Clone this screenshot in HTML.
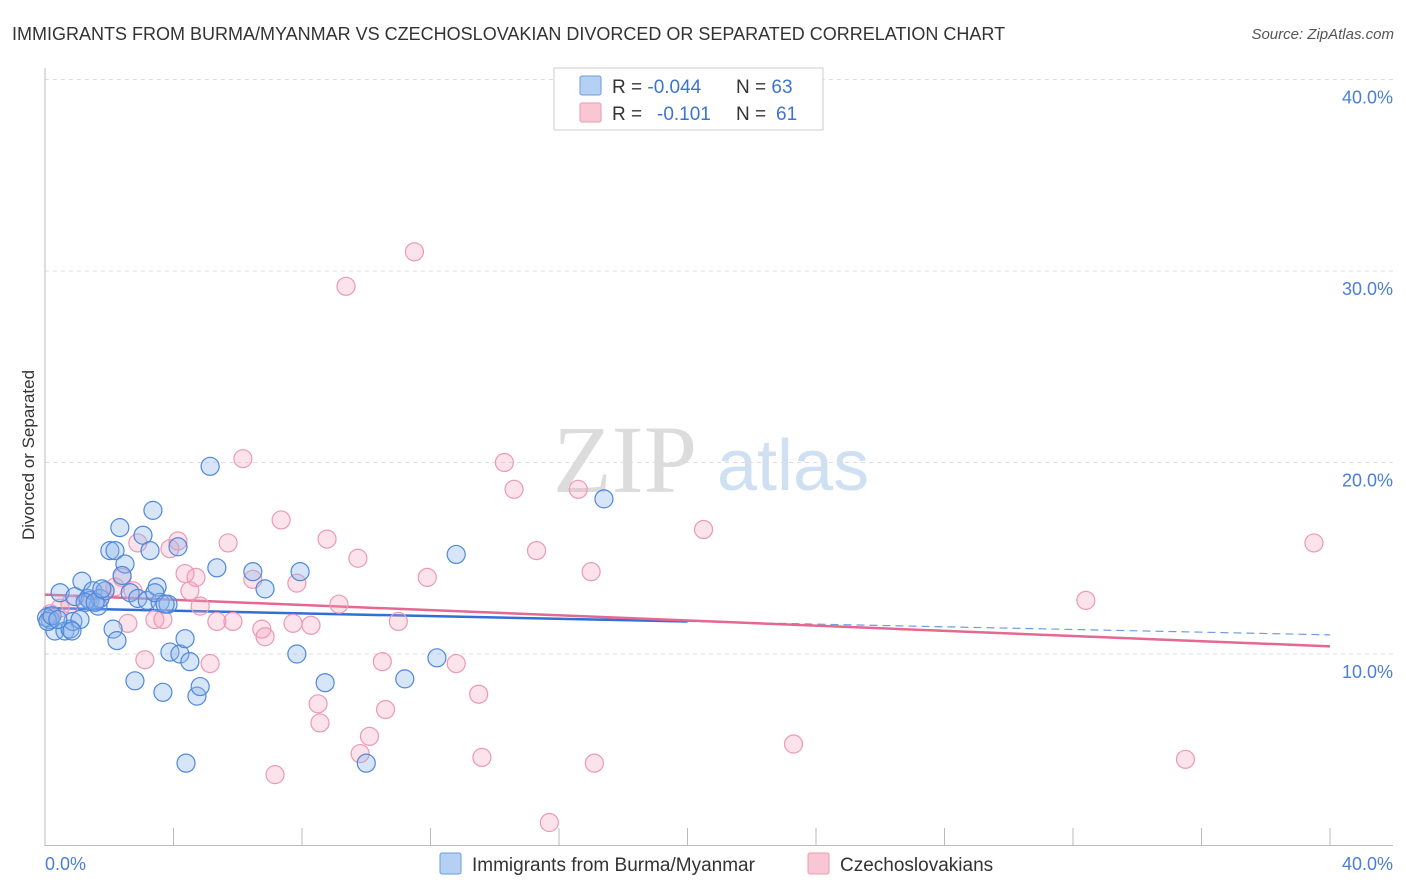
<!DOCTYPE html>
<html><head><meta charset="utf-8"><style>
body{margin:0;background:#fff;font-family:"Liberation Sans",sans-serif;}
svg{display:block}
</style></head><body>
<svg id="chart" width="1406" height="892">
<text x="12" y="40" font-size="18" fill="#333">IMMIGRANTS FROM BURMA/MYANMAR VS CZECHOSLOVAKIAN DIVORCED OR SEPARATED CORRELATION CHART</text>
<text x="1394" y="39" font-size="15" fill="#555" text-anchor="end" font-style="italic">Source: ZipAtlas.com</text>
<g>
<text x="553" y="492" font-size="96" font-family="Liberation Serif,serif" fill="#dcdcdc">ZIP</text>
<text x="717" y="490" font-size="72" fill="#cfe0f3">atlas</text>
</g>
<g id="grid"></g>
<g id="axes"></g>
<g id="trend"></g>
<g id="points"></g>
<text transform="translate(34,455) rotate(-90)" font-size="17" fill="#333" text-anchor="middle">Divorced or Separated</text>
<text x="45" y="870" font-size="18" fill="#4a7fd4">0.0%</text>
<text x="1393" y="870" font-size="18" fill="#4a7fd4" text-anchor="end">40.0%</text>
<g>
<rect x="554" y="68" width="269" height="62" fill="#fff" stroke="#ccc"/>
<rect x="580" y="76" width="21" height="19" fill="#b5d0f3" stroke="#6a9ee0" rx="2"/>
<rect x="580" y="103" width="21" height="19" fill="#f9c6d4" stroke="#ea9ab2" rx="2"/>
<text x="612" y="93" font-size="19" fill="#333">R = <tspan fill="#3b74d0">-0.044</tspan><tspan x="736">N = </tspan><tspan fill="#3b74d0">63</tspan></text>
<text x="612" y="120" font-size="19" fill="#333">R = <tspan x="657" fill="#3b74d0">-0.101</tspan><tspan x="736">N = </tspan><tspan x="776" fill="#3b74d0">61</tspan></text>
</g>
<g>
<rect x="440" y="853" width="21" height="21" fill="#b5d0f3" stroke="#6a9ee0" rx="2"/>
<text x="472" y="871" font-size="19" fill="#333">Immigrants from Burma/Myanmar</text>
<rect x="808" y="853" width="21" height="21" fill="#f9c6d4" stroke="#ea9ab2" rx="2"/>
<text x="840" y="871" font-size="19" fill="#333">Czechoslovakians</text>
</g>
</svg>
<script>
const yTicks=[10,20,30,40];
const yTickLabels=["10.0%","20.0%","30.0%","40.0%"];
const blueX=[0.16,0.31,0.47,0.62,0.78,0.87,0.93,1.09,1.15,1.34,1.40,1.49,1.65,1.71,1.87,2.02,2.12,2.18,2.24,2.33,2.49,2.65,2.80,2.89,3.05,3.18,3.27,3.36,3.49,3.58,3.67,3.83,3.89,4.14,4.20,4.36,4.39,4.51,4.73,4.83,5.14,5.35,6.47,6.85,7.84,7.94,8.72,10.0,11.2,12.2,12.8,17.4,0.05,0.09,0.22,0.40,1.25,1.56,1.77,2.40,3.42,3.74,0.84];
const blueY=[11.8,11.2,13.2,11.2,11.3,11.7,13.0,11.8,13.8,12.9,12.8,13.3,12.5,12.9,13.3,15.4,11.3,15.4,10.7,16.6,14.7,13.2,8.6,12.9,16.2,12.8,15.4,17.5,13.5,12.7,8.0,12.6,10.1,15.6,10.0,10.8,4.3,9.6,7.8,8.3,19.8,14.5,14.3,13.4,10.0,14.3,8.5,4.3,8.7,9.8,15.2,18.1,11.9,11.7,12.0,11.8,12.7,12.7,13.4,14.1,13.2,12.6,11.2];
const pinkX=[0.16,0.47,0.78,1.40,1.71,1.87,2.18,2.40,2.58,2.74,2.89,3.11,3.42,3.67,3.89,4.14,4.36,4.51,4.70,4.83,5.14,5.35,5.70,5.85,6.16,6.47,6.75,6.85,7.35,7.72,7.84,8.28,8.50,8.56,8.78,9.15,9.37,9.74,9.81,10.1,10.5,10.6,11.0,11.5,11.9,12.8,13.5,13.6,14.3,14.6,15.3,15.7,16.6,17.0,17.1,20.5,23.3,32.4,35.5,39.5,7.16];
const pinkY=[12.1,12.4,12.6,12.8,12.9,13.3,13.5,14.0,11.6,13.3,15.8,9.7,11.8,11.8,15.5,15.9,14.2,13.3,14.0,12.5,9.5,11.7,15.8,11.7,20.2,13.9,11.3,10.9,17.0,11.6,13.7,11.5,7.4,6.4,16.0,12.6,29.2,15.0,4.8,5.7,9.6,7.1,11.7,31.0,14.0,9.5,7.9,4.6,20.0,18.6,15.4,1.2,18.6,14.3,4.3,16.5,5.3,12.8,4.5,15.8,3.7];
const blueTrend=[12.4,11.0];
const pinkTrend=[13.1,10.4];
const NS="http://www.w3.org/2000/svg";
const X0=45,X1=1330,Y0=845.5,PY=19.15;
function sx(v){return X0+(X1-X0)*v/40;}
function sy(v){return Y0-v*PY;}
function mk(tag,attrs,parent){const e=document.createElementNS(NS,tag);for(const k in attrs)e.setAttribute(k,attrs[k]);parent.appendChild(e);return e;}
const grid=document.getElementById('grid'),axes=document.getElementById('axes');
yTicks.forEach((t,i)=>{
  const l=mk('line',{x1:45,x2:1393,y1:sy(t),y2:sy(t),stroke:'#ddd','stroke-dasharray':'4,4'},grid);
  
  
  const tx=mk('text',{x:1393,y:sy(t)+24,'font-size':18,fill:'#4a7fd4','text-anchor':'end'},axes);
  tx.textContent=yTickLabels[i];
  
  
});
const al=mk('line',{x1:45,x2:45,y1:68,y2:846,stroke:'#bbb'},axes);


const bl=mk('line',{x1:45,x2:1393,y1:845.5,y2:845.5,stroke:'#bbb'},axes);


for(let i=1;i<=10;i++){
  const tk=mk('line',{x1:sx(i*4),x2:sx(i*4),y1:828,y2:845,stroke:'#bbb'},axes);
  
  
}
const tr=document.getElementById('trend');
const bx=20.0, byMid=blueTrend[0]+(blueTrend[1]-blueTrend[0])*bx/40;
const t1=mk('line',{x1:sx(0),y1:sy(blueTrend[0]),x2:sx(bx),y2:sy(byMid),stroke:'#2f6fd6','stroke-width':2.5},tr);


const t2=mk('line',{x1:sx(bx),y1:sy(byMid),x2:sx(40),y2:sy(blueTrend[1]),stroke:'#6a9ee0','stroke-width':1.2,'stroke-dasharray':'8,5'},tr);


const t3=mk('line',{x1:sx(0),y1:sy(pinkTrend[0]),x2:sx(40),y2:sy(pinkTrend[1]),stroke:'#e4688f','stroke-width':2.5},tr);


const pts=document.getElementById('points');
pinkX.forEach((x,i)=>{
  const c=mk('circle',{cx:sx(x),cy:sy(pinkY[i]),r:9,fill:'rgba(244,160,188,0.3)',stroke:'#eb9ab3','stroke-width':1.2},pts);
  
  
});
blueX.forEach((x,i)=>{
  const c=mk('circle',{cx:sx(x),cy:sy(blueY[i]),r:9,fill:'rgba(140,180,235,0.35)',stroke:'#4d88dc','stroke-width':1.2},pts);
  
  
});
</script>
</body></html>
